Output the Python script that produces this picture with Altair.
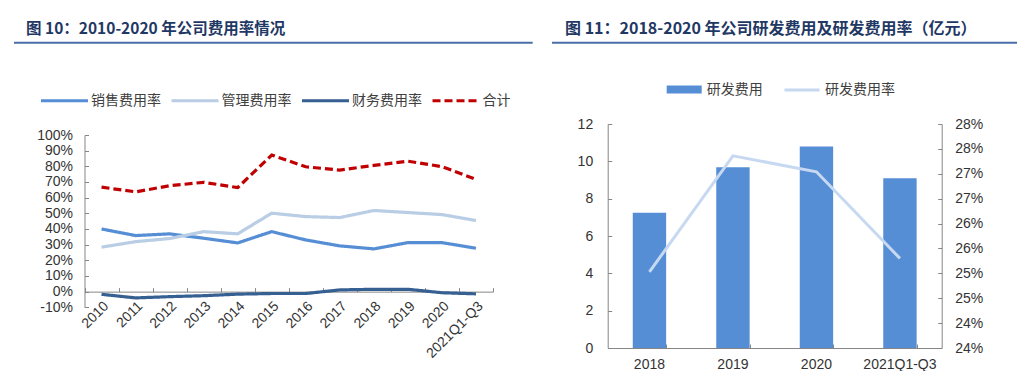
import altair as alt
import pandas as pd

# ---------------- data ----------------
title_left = "图 10：2010-2020 年公司费用率情况"
title_right = "图 11：2018-2020 年公司研发费用及研发费用率（亿元）"

years = ["2010", "2011", "2012", "2013", "2014", "2015", "2016", "2017",
         "2018", "2019", "2020", "2021Q1-Q3"]
series_names = ["销售费用率", "管理费用率", "财务费用率", "合计"]
sales = [40.0, 35.8, 36.9, 34.1, 31.1, 38.3, 33.0, 29.2, 27.3, 31.3, 31.3, 27.7]
mgmt = [28.4, 31.9, 33.9, 38.3, 36.9, 50.1, 47.9, 47.3, 51.8, 50.5, 49.2, 45.4]
fin = [-1.7, -4.0, -3.2, -2.6, -1.6, -1.2, -1.2, 1.1, 1.5, 1.5, -0.7, -1.4]
total = [66.7, 63.7, 67.6, 69.8, 66.4, 87.2, 79.7, 77.6, 80.6, 83.3, 79.8, 71.7]

rd_years = ["2018", "2019", "2020", "2021Q1-Q3"]
rd_cost = [7.25, 9.68, 10.8, 9.1]
rd_rate = [25.03, 27.36, 27.04, 25.30]
rd_names = ["研发费用", "研发费用率"]

left_ticks = [-10, 0, 10, 20, 30, 40, 50, 60, 70, 80, 90, 100]
cost_ticks = [0, 2, 4, 6, 8, 10, 12]
rate_ticks = [23.5, 24.0, 24.5, 25.0, 25.5, 26.0, 26.5, 27.0, 27.5, 28.0]

# ---------------- tables ----------------
rows = []
for name, vals in zip(series_names, [sales, mgmt, fin, total]):
    for y, v in zip(years, vals):
        rows.append({"year": y, "series": name, "value": v})
df_left = pd.DataFrame(rows)
df_rd = pd.DataFrame({"year": rd_years, "cost": rd_cost, "rate": rd_rate,
                      "s1": [rd_names[0]] * 4, "s2": [rd_names[1]] * 4})

W, H = 1009, 363
AX = "#868686"
LBL = "#333333"
NUMFONT = "Liberation Sans"
CJK = "Noto Sans CJK SC"

# ---------------- left panel geometry ----------------
LX0, LX1 = 76.5, 485.0
LY_BOT, LY_TOP = 299.3, 127.0
LY_ZERO = LY_BOT - (LY_BOT - LY_TOP) * 10 / 110

xs_left = alt.Scale(type="band", domain=years, range=[LX0, LX1], paddingInner=0, paddingOuter=0)
ys_left = alt.Scale(domain=[-10, 100], range=[LY_BOT, LY_TOP], nice=False, zero=False)

left_legend = dict(orient="none", legendX=31, legendY=67, direction="horizontal",
                   title=None, symbolType="stroke", symbolSize=2209,
                   symbolStrokeWidth=3.2, labelOffset=1, columnPadding=3.5)

left_lines = alt.Chart(df_left).mark_line(strokeWidth=3.2).encode(
    x=alt.X("year:N", sort=years, bandPosition=0.5, scale=xs_left,
            axis=alt.Axis(orient="bottom", offset=LY_ZERO - H, domain=False, ticks=False,
                          tickSize=0, labelAngle=-45, labelPadding=7, labelFont=NUMFONT,
                          labelFontSize=14, labelColor=LBL, title=None, grid=False)),
    y=alt.Y("value:Q", scale=ys_left,
            axis=alt.Axis(orient="left", offset=-LX0, values=left_ticks,
                          labelExpr="datum.value + '%'", ticks=False, tickSize=0,
                          labelPadding=12, domain=True, domainColor=AX, labelFont=NUMFONT,
                          labelFontSize=14, labelColor=LBL, title=None, grid=False)),
    color=alt.Color("series:N", sort=series_names,
                    scale=alt.Scale(domain=series_names,
                                    range=["#558ED5", "#B9CDE5", "#376092", "#C00000"]),
                    legend=alt.Legend(**left_legend)),
    strokeDash=alt.StrokeDash("series:N", sort=series_names,
                              scale=alt.Scale(domain=series_names,
                                              range=[[1, 0], [1, 0], [1, 0], [8, 4]]),
                              legend=alt.Legend(**left_legend)),
)

left_ticks_layer = alt.Chart(df_left).mark_point(opacity=0).encode(
    x=alt.X("year:N", sort=years, scale=xs_left,
            axis=alt.Axis(orient="top", offset=-LY_ZERO, labels=False, domain=True,
                          domainColor=AX, ticks=True, tickSize=4, tickColor=AX,
                          tickBand="extent", title=None, grid=False)),
    y=alt.Y("value:Q", scale=ys_left,
            axis=alt.Axis(orient="right", offset=LX0 - W, values=left_ticks, labels=False,
                          domain=False, ticks=True, tickSize=4, tickColor=AX,
                          title=None, grid=False)),
)

# ---------------- right panel geometry ----------------
RX0, RX1 = 599.7, 933.7
RY_BOT, RY_TOP = 340.0, 116.0

xs_right = alt.Scale(type="band", domain=rd_years, range=[RX0, RX1], paddingInner=0.6, paddingOuter=0.3)
ys_cost = alt.Scale(domain=[0, 12], range=[RY_BOT, RY_TOP], nice=False, zero=False)
ys_rate = alt.Scale(domain=[23.5, 28], range=[RY_BOT, RY_TOP], nice=False, zero=False)

bars = alt.Chart(df_rd).mark_bar().encode(
    x=alt.X("year:N", sort=rd_years, scale=xs_right,
            axis=alt.Axis(orient="bottom", offset=RY_BOT - H, domain=True, domainColor=AX,
                          ticks=False, tickSize=0, labelAngle=0, labelPadding=9,
                          labelFont=NUMFONT, labelFontSize=14, labelColor=LBL,
                          title=None, grid=False)),
    y=alt.Y("cost:Q", scale=ys_cost,
            axis=alt.Axis(orient="left", offset=-RX0, values=cost_ticks, ticks=False,
                          tickSize=0, labelPadding=15, domain=True, domainColor=AX,
                          labelFont=NUMFONT, labelFontSize=14, labelColor=LBL,
                          title=None, grid=False)),
    color=alt.Color("s1:N", scale=alt.Scale(domain=[rd_names[0]], range=["#558ED5"]),
                    legend=alt.Legend(orient="none", legendX=657.7, legendY=63, title=None,
                                      symbolType="M-1,-0.23H1V0.23H-1Z", symbolSize=1225,
                                      labelOffset=4)),
)

rate_line = alt.Chart(df_rd).mark_line(strokeWidth=3).encode(
    x=alt.X("year:N", sort=rd_years, bandPosition=0.5, scale=xs_right,
            axis=alt.Axis(orient="top", offset=-RY_BOT, labels=False, domain=False,
                          ticks=True, tickSize=4, tickColor=AX, tickBand="extent",
                          title=None, grid=False)),
    y=alt.Y("rate:Q", scale=ys_rate,
            axis=alt.Axis(orient="right", offset=RX1 - W, values=rate_ticks,
                          labelExpr="round(datum.value) + '%'", ticks=False, tickSize=0,
                          labelPadding=13, domain=True, domainColor=AX, labelFont=NUMFONT,
                          labelFontSize=14, labelColor=LBL, title=None, grid=False)),
    color=alt.Color("s2:N", scale=alt.Scale(domain=[rd_names[1]], range=["#C6D9F1"]),
                    legend=alt.Legend(orient="none", legendX=775, legendY=63, title=None,
                                      symbolType="stroke", symbolSize=1225,
                                      symbolStrokeWidth=3, labelOffset=4)),
)

cost_inner = alt.Chart(df_rd).mark_point(opacity=0).encode(
    y=alt.Y("cost:Q", scale=ys_cost,
            axis=alt.Axis(orient="right", offset=RX0 - W, values=cost_ticks, labels=False,
                          domain=False, ticks=True, tickSize=4, tickColor=AX,
                          title=None, grid=False)),
)
rate_inner = alt.Chart(df_rd).mark_point(opacity=0).encode(
    y=alt.Y("rate:Q", scale=ys_rate,
            axis=alt.Axis(orient="left", offset=-RX1, values=rate_ticks, labels=False,
                          domain=False, ticks=True, tickSize=4, tickColor=AX,
                          title=None, grid=False)),
)

# ---------------- titles ----------------
df_titles = pd.DataFrame({"t": [title_left, title_right], "side": ["L", "R"]})
title_l = alt.Chart(df_titles).transform_filter("datum.side == 'L'").mark_text(
    align="left", baseline="middle", font=CJK, fontWeight="bold", fontSize=15.5,
    color="#1F3864").encode(x=alt.value(18), y=alt.value(20.5), text="t:N")
title_r = alt.Chart(df_titles).transform_filter("datum.side == 'R'").mark_text(
    align="left", baseline="middle", font=CJK, fontWeight="bold", fontSize=16,
    color="#1F3864").encode(x=alt.value(557), y=alt.value(20.5), text="t:N")
rule_l = alt.Chart(df_titles).transform_filter("datum.side == 'L'").mark_rule(
    color="#4A6EA9", strokeWidth=2).encode(x=alt.value(6), x2=alt.value(524.7), y=alt.value(34.7))
rule_r = alt.Chart(df_titles).transform_filter("datum.side == 'R'").mark_rule(
    color="#4A6EA9", strokeWidth=2).encode(x=alt.value(544), x2=alt.value(W), y=alt.value(34.7))

chart = alt.layer(
    left_ticks_layer, left_lines, cost_inner, rate_inner, bars, rate_line,
    title_l, title_r, rule_l, rule_r,
).resolve_scale(
    x="independent", y="independent", color="independent", strokeDash="independent"
).resolve_axis(
    x="independent", y="independent"
).resolve_legend(
    color="independent", strokeDash="independent"
).properties(
    width=W, height=H, padding=0, autosize=alt.AutoSizeParams(type="none")
).configure_view(
    stroke=None
).configure_legend(
    labelFont=CJK, labelFontSize=14, labelColor="#404040", labelLimit=0
)

chart.save("out.html", embed_options={"renderer": "svg", "actions": False})
